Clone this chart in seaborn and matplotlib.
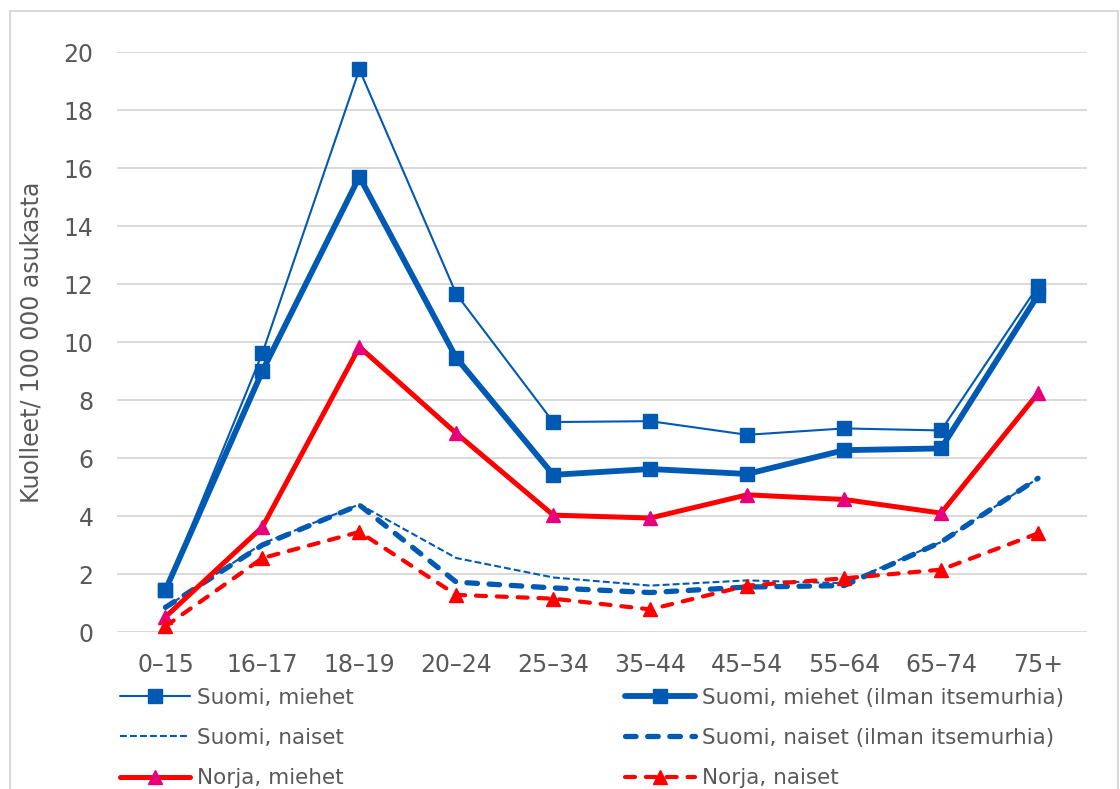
import matplotlib
matplotlib.use("Agg")
import matplotlib.pyplot as plt
from matplotlib.patches import Rectangle
import seaborn as sns

# Age groups and mortality rates (deaths per 100 000 inhabitants)
age_groups = ["0–15", "16–17", "18–19", "20–24", "25–34", "35–44",
              "45–54", "55–64", "65–74", "75+"]

fi_men = [1.45, 9.62, 19.4, 11.65, 7.24, 7.27, 6.8, 7.02, 6.95, 11.93]
fi_men_no_suicide = [1.45, 9.0, 15.7, 9.45, 5.42, 5.62, 5.45, 6.27, 6.33, 11.62]
fi_women = [0.85, 3.05, 4.4, 2.55, 1.88, 1.6, 1.78, 1.68, 3.1, 5.3]
fi_women_no_suicide = [0.85, 3.0, 4.38, 1.72, 1.52, 1.36, 1.55, 1.6, 3.1, 5.3]
no_men = [0.52, 3.62, 9.83, 6.85, 4.03, 3.93, 4.73, 4.57, 4.1, 8.23]
no_women = [0.2, 2.55, 3.45, 1.28, 1.15, 0.78, 1.6, 1.85, 2.15, 3.4]

series_labels = [
    "Suomi, miehet",
    "Suomi, miehet (ilman itsemurhia)",
    "Suomi, naiset",
    "Suomi, naiset (ilman itsemurhia)",
    "Norja, miehet",
    "Norja, naiset",
]

BLUE = "#0059B3"
RED = "#FF0000"
MAGENTA = "#E6007E"
GRID = "#D9D9D9"
TEXT = "#595959"

sns.set_style("white")
plt.rcParams["font.family"] = ["DejaVu Sans"]

fig = plt.figure(figsize=(11.2, 7.89), dpi=100)
ax = fig.add_axes([117 / 1120, 1 - 632 / 789, (1086.5 - 117) / 1120, (632 - 52) / 789])

x = list(range(len(age_groups)))

styles = [
    (fi_men, dict(color=BLUE, lw=1.5, marker="s", markersize=9.5,
                  markerfacecolor=BLUE, markeredgecolor=BLUE, markeredgewidth=1)),
    (fi_men_no_suicide, dict(color=BLUE, lw=4.2, marker="s", markersize=9.5,
                             markerfacecolor=BLUE, markeredgecolor=BLUE, markeredgewidth=1)),
    (fi_women, dict(color=BLUE, lw=1.5, linestyle=(0, (3.3, 1.5)))),
    (fi_women_no_suicide, dict(color=BLUE, lw=3.8, linestyle=(0, (2.0, 2.2)),
                               dash_capstyle="round")),
    (no_men, dict(color=RED, lw=3.6, marker="^", markersize=10,
                  markerfacecolor=MAGENTA, markeredgecolor=MAGENTA, markeredgewidth=1)),
    (no_women, dict(color=RED, lw=3.0, linestyle=(0, (2.4, 2.6)), dash_capstyle="round",
                    marker="^", markersize=10, markerfacecolor=RED,
                    markeredgecolor=RED, markeredgewidth=1)),
]

for (values, kw), label in zip(styles, series_labels):
    sns.lineplot(x=x, y=values, ax=ax, label=label, clip_on=False, **kw)

ax.set_xlim(-0.5, len(age_groups) - 0.5)
ax.set_ylim(0, 20)
ax.set_yticks(range(0, 21, 2))
ax.set_xticks(x)
ax.set_xticklabels(age_groups)
ax.yaxis.grid(True, color=GRID, lw=1.4)
ax.set_axisbelow(True)
for s in ax.spines.values():
    s.set_visible(False)
ax.tick_params(axis="both", length=0, labelsize=17, colors=TEXT)
ax.tick_params(axis="y", pad=17)
ax.tick_params(axis="x", pad=15)
ax.set_xlabel("")
ax.set_ylabel("Kuolleet/ 100 000 asukasta", fontsize=17, color=TEXT, labelpad=14)

handles, labels = ax.get_legend_handles_labels()
ax.get_legend().remove()
order = [0, 2, 4, 1, 3, 5]
leg = fig.legend([handles[i] for i in order], [labels[i] for i in order],
                 ncol=2, loc="upper left", bbox_to_anchor=(120 / 1120, 1 - 688 / 789),
                 frameon=False, fontsize=15.5, handlelength=3.25, handletextpad=0.33,
                 columnspacing=12.6, labelspacing=0.93, borderpad=0, borderaxespad=0)
for t in leg.get_texts():
    t.set_color(TEXT)

# Chart area border
fig.patches.append(Rectangle((10 / 1120, -0.2), (1118 - 10) / 1120, 1.2 - 11 / 789,
                             transform=fig.transFigure, fill=False,
                             edgecolor=GRID, lw=1.5, zorder=-1))

fig.savefig("out.png", dpi=100, facecolor="white")
